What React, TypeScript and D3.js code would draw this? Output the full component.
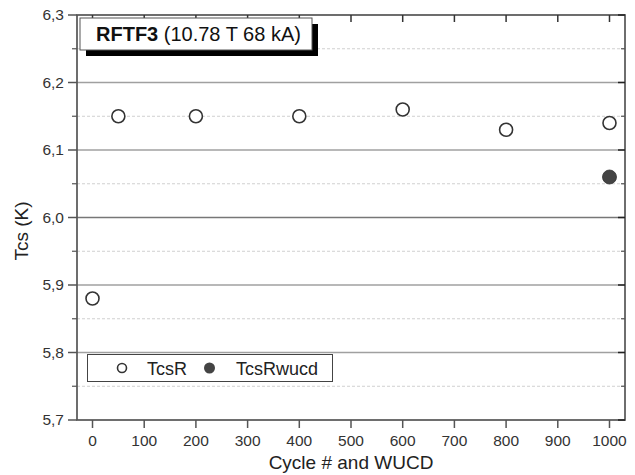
import React from "react";
import * as d3 from "d3";

const cycles = [0, 50, 200, 400, 600, 800, 1000];
const tcsR = [5.88, 6.15, 6.15, 6.15, 6.16, 6.13, 6.14];
const wucdCycles = [1000];
const tcsRwucd = [6.06];
const xTicks = [0, 100, 200, 300, 400, 500, 600, 700, 800, 900, 1000];
const yTicks = [5.7, 5.8, 5.9, 6.0, 6.1, 6.2, 6.3];
const yMinor = [5.75, 5.85, 5.95, 6.05, 6.15, 6.25];

const W = 635, H = 475;
const L = 77, R = 625, T = 15, B = 420;

export default function App() {
  const x = d3.scaleLinear().domain([-30, 1030]).range([L, R]);
  const y = d3.scaleLinear().domain([5.7, 6.3]).range([B, T]);
  const fmt = (v: number) => v.toFixed(1).replace(".", ",");
  const font = "Liberation Sans, Arial, sans-serif";
  const axisColor = "#555";
  return (
    <svg width={W} height={H} style={{ position: "absolute", left: 0, top: 0 }} fontFamily={font}>
      <rect width={W} height={H} fill="#fff" />
      {/* minor grid */}
      {yMinor.map((v) => (
        <line key={"mg" + v} x1={L} x2={R} y1={y(v)} y2={y(v)} stroke="#d0d0d0" strokeDasharray="3,2" strokeWidth={1} />
      ))}
      {/* major grid */}
      {yTicks.slice(1, -1).map((v) => (
        <line key={"g" + v} x1={L} x2={R} y1={y(v)} y2={y(v)} stroke={v === 6.0 ? "#777" : "#a0a0a0"} strokeWidth={1.4} />
      ))}
      {/* axes frame */}
      <rect x={L} y={T} width={R - L} height={B - T} fill="none" stroke={axisColor} strokeWidth={1.7} />
      {/* y ticks */}
      {yTicks.map((v) => (
        <g key={"yt" + v}>
          <line x1={L - 9} x2={L} y1={y(v)} y2={y(v)} stroke={axisColor} strokeWidth={1.5} />
          <line x1={R - 7} x2={R} y1={y(v)} y2={y(v)} stroke="#222" strokeWidth={1.5} />
          <text x={L - 13} y={y(v)} dy="0.35em" textAnchor="end" fontSize={15.5} fill="#333">{fmt(v)}</text>
        </g>
      ))}
      {yMinor.map((v) => (
        <g key={"ym" + v}>
          <line x1={L - 5} x2={L} y1={y(v)} y2={y(v)} stroke={axisColor} strokeWidth={1.2} />
          <line x1={R - 4} x2={R} y1={y(v)} y2={y(v)} stroke={axisColor} strokeWidth={1.2} />
        </g>
      ))}
      {/* x ticks */}
      {xTicks.map((v) => (
        <g key={"xt" + v}>
          <line x1={x(v)} x2={x(v)} y1={B} y2={B + 8} stroke={axisColor} strokeWidth={1.5} />
          <line x1={x(v)} x2={x(v)} y1={T} y2={T + 7} stroke="#333" strokeWidth={1.5} />
          <text x={x(v)} y={B + 26} textAnchor="middle" fontSize={15.5} fill="#333">{v}</text>
        </g>
      ))}
      {/* axis labels */}
      <text x={351} y={469} textAnchor="middle" fontSize={19} fill="#222">Cycle # and WUCD</text>
      <text transform={`translate(28,231) rotate(-90)`} textAnchor="middle" fontSize={19} fill="#222">Tcs (K)</text>
      {/* data */}
      {cycles.map((c, i) => (
        <circle key={"r" + i} cx={x(c)} cy={y(tcsR[i])} r={6.5} fill="#fff" stroke="#333" strokeWidth={1.6} />
      ))}
      {wucdCycles.map((c, i) => (
        <circle key={"w" + i} cx={x(c)} cy={y(tcsRwucd[i])} r={7} fill="#444" stroke="#333" strokeWidth={0.8} />
      ))}
      {/* title box */}
      <rect x={86} y={24} width={232} height={32} fill="#000" />
      <rect x={80} y={18} width={232} height={32} fill="#fff" stroke="#555" strokeWidth={1} />
      <text x={96} y={41} fontSize={20} fill="#111">
        <tspan fontWeight="bold">RFTF3</tspan>
        <tspan> (10.78 T 68 kA)</tspan>
      </text>
      {/* legend */}
      <rect x={87.5} y={354.5} width={245} height={27} fill="#fff" stroke="#444" strokeWidth={1} />
      <circle cx={122} cy={368} r={4.5} fill="#fff" stroke="#333" strokeWidth={1.6} />
      <text x={147} y={374.5} fontSize={18} fill="#222">TcsR</text>
      <circle cx={209.5} cy={368} r={5.5} fill="#444" />
      <text x={236} y={374.5} fontSize={18} fill="#222">TcsRwucd</text>
    </svg>
  );
}
